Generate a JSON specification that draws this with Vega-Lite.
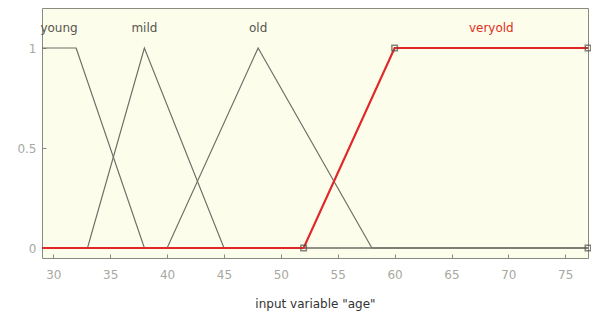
{
  "$schema": "https://vega.github.io/schema/vega-lite/v6.json",
  "width": 546,
  "height": 250,
  "autosize": {"type": "none"},
  "padding": {"left": 42, "top": 8, "right": 3, "bottom": 55},
  "background": "white",
  "config": {
    "view": {"fill": "#fdfdec", "stroke": "#8a8a80", "strokeWidth": 1},
    "axis": {"grid": false, "domain": false, "tickColor": "#8a8a80", "labelColor": "#a8a8a0", "labelFont": "DejaVu Sans", "labelFontSize": 12, "titleFont": "DejaVu Sans", "titleFontWeight": "normal", "titleColor": "#333333", "titleFontSize": 12}
  },
  "datasets": {
    "mfs": [
      {"mf": "young", "x": 29, "y": 1},
      {"mf": "young", "x": 32, "y": 1},
      {"mf": "young", "x": 38, "y": 0},
      {"mf": "young", "x": 77, "y": 0},
      {"mf": "mild", "x": 29, "y": 0},
      {"mf": "mild", "x": 33, "y": 0},
      {"mf": "mild", "x": 38, "y": 1},
      {"mf": "mild", "x": 45, "y": 0},
      {"mf": "mild", "x": 77, "y": 0},
      {"mf": "old", "x": 29, "y": 0},
      {"mf": "old", "x": 40, "y": 0},
      {"mf": "old", "x": 48, "y": 1},
      {"mf": "old", "x": 58, "y": 0},
      {"mf": "old", "x": 77, "y": 0}
    ],
    "veryold": [
      {"x": 29, "y": 0},
      {"x": 52, "y": 0},
      {"x": 60, "y": 1},
      {"x": 77, "y": 1}
    ],
    "markers": [
      {"x": 52, "y": 0},
      {"x": 60, "y": 1},
      {"x": 77, "y": 1},
      {"x": 77, "y": 0}
    ],
    "labels": [
      {"mf": "young", "x": 30.5, "y": 1.1, "sel": "no"},
      {"mf": "mild", "x": 38, "y": 1.1, "sel": "no"},
      {"mf": "old", "x": 48, "y": 1.1, "sel": "no"},
      {"mf": "veryold", "x": 68.5, "y": 1.1, "sel": "yes"}
    ]
  },
  "encoding": {
    "x": {"field": "x", "type": "quantitative", "scale": {"domain": [29, 77], "nice": false, "zero": false},
          "axis": {"orient": "bottom", "values": [30,35,40,45,50,55,60,65,70,75], "tickSize": -4, "labelPadding": 15, "title": "input variable \"age\"", "titlePadding": 18}},
    "y": {"field": "y", "type": "quantitative", "scale": {"domain": [-0.05, 1.2], "nice": false, "zero": false},
          "axis": {"orient": "left", "values": [0, 0.5, 1], "format": "~g", "tickSize": -4, "labelPadding": 10, "title": null}}
  },
  "layer": [
    {
      "data": {"name": "mfs"},
      "mark": {"type": "line", "color": "#6e6e66", "strokeWidth": 1.2, "clip": true},
      "encoding": {"detail": {"field": "mf"}}
    },
    {
      "data": {"name": "veryold"},
      "mark": {"type": "line", "color": "#e02828", "strokeWidth": 2.2, "clip": true},
      "encoding": {}
    },
    {
      "data": {"name": "markers"},
      "mark": {"type": "point", "shape": "square", "size": 30, "filled": false, "stroke": "#505048", "strokeWidth": 1.5, "clip": false}
    },
    {
      "data": {"name": "labels"},
      "mark": {"type": "text", "font": "DejaVu Sans", "fontSize": 12, "baseline": "middle"},
      "encoding": {
        "text": {"field": "mf"},
        "color": {"field": "sel", "type": "nominal", "scale": {"domain": ["no", "yes"], "range": ["#55554d", "#e03020"]}, "legend": null}
      }
    }
  ]
}
